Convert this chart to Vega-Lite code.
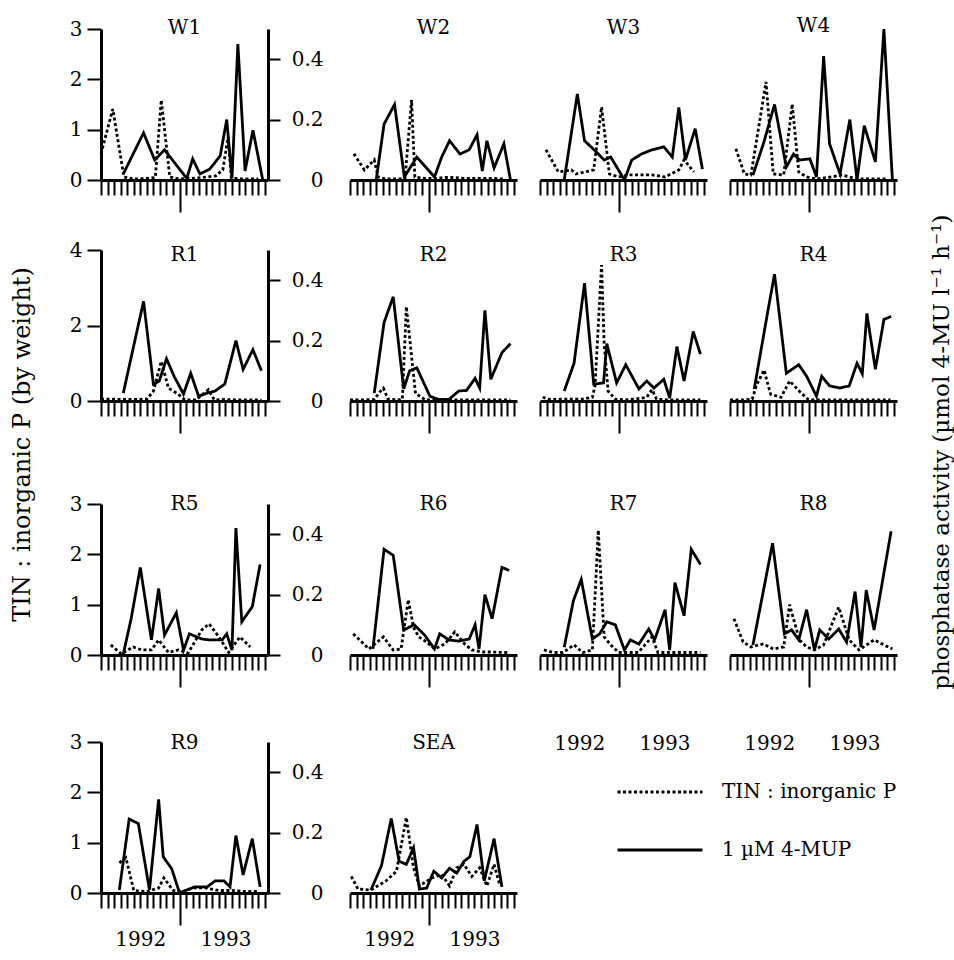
{
"$schema": "https://vega.github.io/schema/vega-lite/v6.json",
"background": "white",
"padding": {"left": 9, "top": 16, "right": 0, "bottom": 0},
"title": {"text": "phosphatase activity (µmol 4-MU l⁻¹ h⁻¹)", "orient": "right", "angle": 270, "anchor": "middle", "frame": "bounds", "fontSize": 23, "offset": 10, "dx": 39},
"columns": 4,
"spacing": {"row": 70, "column": 23},
"bounds": "flush",
"align": "each",
"datasets": {
"W1_tin": [{"month":0,"value":0.52},{"month":1.8,"value":1.41},{"month":3.5,"value":0.06},{"month":5,"value":0.02},{"month":7,"value":0.03},{"month":8.3,"value":0.05},{"month":9.2,"value":1.59},{"month":10.5,"value":0.06},{"month":12,"value":0.02},{"month":13.5,"value":0.03},{"month":15.5,"value":0.05},{"month":17.5,"value":0.08},{"month":18.6,"value":0.2},{"month":19.4,"value":0.85},{"month":19.9,"value":0.05},{"month":21,"value":0.02},{"month":22.5,"value":0.02},{"month":24,"value":0.02}],
"W1_mup": [{"month":3.4,"value":0.02},{"month":6.5,"value":0.156},{"month":8.2,"value":0.066},{"month":9.7,"value":0.1},{"month":13.1,"value":0.005},{"month":14,"value":0.07},{"month":15.1,"value":0.02},{"month":16.6,"value":0.036},{"month":18.2,"value":0.08},{"month":19.2,"value":0.2},{"month":20,"value":0.005},{"month":20.9,"value":0.45},{"month":22,"value":0.03},{"month":23.2,"value":0.165},{"month":24.7,"value":0}],
"W2_tin": [{"month":0.6,"value":0.52},{"month":2.2,"value":0.2},{"month":3.7,"value":0.4},{"month":4.3,"value":0.06},{"month":5.5,"value":0.02},{"month":7,"value":0.02},{"month":8.4,"value":0.03},{"month":9.4,"value":1.59},{"month":9.9,"value":0.06},{"month":11.5,"value":0.03},{"month":13,"value":0.03},{"month":14.5,"value":0.05},{"month":16,"value":0.05},{"month":17.5,"value":0.03},{"month":19,"value":0.03},{"month":20.5,"value":0.03},{"month":22,"value":0.03},{"month":23.5,"value":0.02}],
"W2_mup": [{"month":4,"value":0},{"month":5.2,"value":0.185},{"month":6.8,"value":0.25},{"month":8.3,"value":0.01},{"month":10.2,"value":0.076},{"month":12.9,"value":0.01},{"month":14,"value":0.076},{"month":15.2,"value":0.13},{"month":16.8,"value":0.086},{"month":18.2,"value":0.1},{"month":19.4,"value":0.15},{"month":20.2,"value":0.03},{"month":20.9,"value":0.13},{"month":22,"value":0.04},{"month":23.5,"value":0.12},{"month":24.5,"value":0}],
"W3_tin": [{"month":0.9,"value":0.6},{"month":2.8,"value":0.16},{"month":4.8,"value":0.2},{"month":5.5,"value":0.12},{"month":8.2,"value":0.2},{"month":9.4,"value":1.45},{"month":10.6,"value":0.12},{"month":12,"value":0.06},{"month":13.5,"value":0.1},{"month":15.1,"value":0.1},{"month":17.1,"value":0.1},{"month":19.1,"value":0.06},{"month":21.2,"value":0.2},{"month":22,"value":0.4},{"month":23.5,"value":0.16}],
"W3_mup": [{"month":3.7,"value":0},{"month":5.7,"value":0.285},{"month":6.8,"value":0.13},{"month":8.6,"value":0.093},{"month":9.8,"value":0.066},{"month":10.8,"value":0.076},{"month":12.9,"value":0},{"month":14,"value":0.066},{"month":15.5,"value":0.086},{"month":17.1,"value":0.1},{"month":18.9,"value":0.11},{"month":20.2,"value":0.076},{"month":21.2,"value":0.24},{"month":22.2,"value":0.066},{"month":23.7,"value":0.17},{"month":24.8,"value":0.036}],
"W4_tin": [{"month":0.9,"value":0.62},{"month":2.2,"value":0.12},{"month":3.2,"value":0.1},{"month":5.5,"value":1.95},{"month":6.6,"value":0.12},{"month":8.2,"value":0.1},{"month":9.5,"value":1.51},{"month":10.5,"value":0.16},{"month":11.7,"value":0.06},{"month":13.2,"value":0.02},{"month":15.5,"value":0.06},{"month":17.1,"value":0.1},{"month":19.4,"value":0.02},{"month":21.7,"value":0.02},{"month":24,"value":0.02}],
"W4_mup": [{"month":3.5,"value":0.016},{"month":5.1,"value":0.12},{"month":6.8,"value":0.25},{"month":8.6,"value":0.043},{"month":9.7,"value":0.086},{"month":10.6,"value":0.066},{"month":12.2,"value":0.07},{"month":13.2,"value":0.01},{"month":14.3,"value":0.41},{"month":15.2,"value":0.12},{"month":16.8,"value":0.02},{"month":18.3,"value":0.2},{"month":19.4,"value":0},{"month":20.5,"value":0.18},{"month":22.2,"value":0.06},{"month":23.5,"value":0.5},{"month":24.8,"value":0}],
"R1_tin": [{"month":0,"value":0.05},{"month":1.5,"value":0.05},{"month":3,"value":0.04},{"month":5,"value":0.04},{"month":7,"value":0.05},{"month":8,"value":0.26},{"month":9.2,"value":1.05},{"month":10.3,"value":0.34},{"month":11.8,"value":0.18},{"month":12.8,"value":0.03},{"month":14.5,"value":0.03},{"month":16.4,"value":0.3},{"month":17.3,"value":0.03},{"month":19,"value":0.04},{"month":21,"value":0.03},{"month":23,"value":0.03},{"month":24.5,"value":0.03}],
"R1_mup": [{"month":3.4,"value":0.026},{"month":6.5,"value":0.33},{"month":8,"value":0.056},{"month":8.9,"value":0.066},{"month":10,"value":0.14},{"month":11.2,"value":0.08},{"month":12.6,"value":0.023},{"month":13.7,"value":0.092},{"month":14.9,"value":0.016},{"month":16.2,"value":0.026},{"month":17.4,"value":0.033},{"month":18.9,"value":0.056},{"month":20.6,"value":0.2},{"month":21.7,"value":0.105},{"month":23.2,"value":0.17},{"month":24.5,"value":0.1}],
"R2_tin": [{"month":0,"value":0.03},{"month":2,"value":0.03},{"month":3.7,"value":0.04},{"month":4.6,"value":0.25},{"month":5.1,"value":0.34},{"month":5.8,"value":0.05},{"month":7.3,"value":0.03},{"month":8,"value":0.05},{"month":8.6,"value":2.5},{"month":10,"value":0.2},{"month":11.5,"value":0.03},{"month":13,"value":0.03},{"month":15,"value":0.03},{"month":17,"value":0.03},{"month":19,"value":0.03},{"month":21,"value":0.03},{"month":23,"value":0.03},{"month":24.5,"value":0.03}],
"R2_mup": [{"month":3.7,"value":0.026},{"month":5.2,"value":0.26},{"month":6.6,"value":0.345},{"month":8.2,"value":0.04},{"month":9.1,"value":0.1},{"month":10.2,"value":0.11},{"month":12.2,"value":0.016},{"month":13.5,"value":0.005},{"month":15.1,"value":0.005},{"month":16.6,"value":0.033},{"month":17.8,"value":0.035},{"month":19.1,"value":0.075},{"month":19.8,"value":0.043},{"month":20.6,"value":0.3},{"month":21.5,"value":0.072},{"month":23.2,"value":0.16},{"month":24.5,"value":0.19}],
"R3_tin": [{"month":0.4,"value":0.1},{"month":1.5,"value":0.04},{"month":3,"value":0.05},{"month":5,"value":0.05},{"month":6.5,"value":0.05},{"month":8,"value":0.1},{"month":8.4,"value":0.4},{"month":9.4,"value":3.6},{"month":9.8,"value":1.5},{"month":10.4,"value":0.26},{"month":11.5,"value":0.05},{"month":13,"value":0.03},{"month":14.5,"value":0.05},{"month":16.3,"value":0.1},{"month":17.1,"value":0.3},{"month":17.8,"value":0.05},{"month":19.5,"value":0.03},{"month":21,"value":0.03},{"month":23,"value":0.03},{"month":24.5,"value":0.03}],
"R3_mup": [{"month":3.7,"value":0.033},{"month":5.2,"value":0.125},{"month":6.8,"value":0.39},{"month":8.2,"value":0.056},{"month":9.7,"value":0.06},{"month":10.2,"value":0.19},{"month":11.7,"value":0.06},{"month":13.1,"value":0.12},{"month":15.1,"value":0.04},{"month":16.3,"value":0.066},{"month":17.4,"value":0.043},{"month":18.9,"value":0.072},{"month":19.8,"value":0.01},{"month":20.9,"value":0.18},{"month":22,"value":0.066},{"month":23.4,"value":0.23},{"month":24.5,"value":0.155}],
"R4_tin": [{"month":0,"value":0.03},{"month":2,"value":0.03},{"month":3.4,"value":0.05},{"month":4,"value":0.4},{"month":5.2,"value":0.82},{"month":6.2,"value":0.18},{"month":7.8,"value":0.1},{"month":9.1,"value":0.53},{"month":10.6,"value":0.26},{"month":12,"value":0.03},{"month":13.5,"value":0.03},{"month":15,"value":0.03},{"month":17,"value":0.03},{"month":19,"value":0.03},{"month":21,"value":0.03},{"month":23,"value":0.03},{"month":24.5,"value":0.03}],
"R4_mup": [{"month":3.7,"value":0.04},{"month":5.8,"value":0.3},{"month":6.8,"value":0.42},{"month":8.6,"value":0.092},{"month":10.5,"value":0.12},{"month":11.7,"value":0.082},{"month":13.2,"value":0.016},{"month":14,"value":0.082},{"month":15.2,"value":0.05},{"month":16.8,"value":0.043},{"month":18.2,"value":0.05},{"month":19.4,"value":0.125},{"month":20.2,"value":0.09},{"month":20.9,"value":0.29},{"month":22.2,"value":0.105},{"month":23.5,"value":0.27},{"month":24.6,"value":0.28}],
"R5_tin": [{"month":1.5,"value":0.2},{"month":3.1,"value":0.02},{"month":4.9,"value":0.16},{"month":6.2,"value":0.1},{"month":7.7,"value":0.1},{"month":8.8,"value":0.3},{"month":10.3,"value":0.05},{"month":11.8,"value":0.1},{"month":13.3,"value":0.04},{"month":15.4,"value":0.5},{"month":16.5,"value":0.62},{"month":18,"value":0.36},{"month":19.5,"value":0.05},{"month":21.2,"value":0.36},{"month":22.8,"value":0.16}],
"R5_mup": [{"month":3.4,"value":0.003},{"month":4.6,"value":0.12},{"month":6,"value":0.29},{"month":7.7,"value":0.05},{"month":8.8,"value":0.22},{"month":9.7,"value":0.066},{"month":11.5,"value":0.14},{"month":12.6,"value":0.016},{"month":13.5,"value":0.07},{"month":15.4,"value":0.053},{"month":16.5,"value":0.05},{"month":18.5,"value":0.05},{"month":19.2,"value":0.07},{"month":20,"value":0.016},{"month":20.6,"value":0.42},{"month":21.5,"value":0.11},{"month":23.1,"value":0.16},{"month":24.3,"value":0.3}],
"R6_tin": [{"month":0.5,"value":0.42},{"month":2.9,"value":0.12},{"month":5.1,"value":0.36},{"month":6.6,"value":0.1},{"month":7.8,"value":0.12},{"month":8.9,"value":1.1},{"month":9.7,"value":0.55},{"month":10.5,"value":0.36},{"month":11.7,"value":0.26},{"month":12.9,"value":0.12},{"month":14.5,"value":0.22},{"month":16,"value":0.46},{"month":17.5,"value":0.22},{"month":18.6,"value":0.1},{"month":20.2,"value":0.06},{"month":21.7,"value":0.06},{"month":23.2,"value":0.05},{"month":24.3,"value":0.05}],
"R6_mup": [{"month":3.5,"value":0.02},{"month":5.2,"value":0.35},{"month":6.6,"value":0.33},{"month":8.2,"value":0.083},{"month":9.8,"value":0.1},{"month":11.4,"value":0.066},{"month":12.9,"value":0.02},{"month":13.7,"value":0.07},{"month":15.1,"value":0.05},{"month":16.6,"value":0.046},{"month":18.2,"value":0.053},{"month":19.1,"value":0.1},{"month":19.7,"value":0.02},{"month":20.6,"value":0.2},{"month":21.7,"value":0.12},{"month":23.2,"value":0.29},{"month":24.3,"value":0.28}],
"R7_tin": [{"month":0.6,"value":0.1},{"month":2,"value":0.05},{"month":3.5,"value":0.05},{"month":5.2,"value":0.2},{"month":6.5,"value":0.05},{"month":8,"value":0.1},{"month":8.9,"value":2.48},{"month":9.8,"value":0.36},{"month":10.8,"value":0.2},{"month":12,"value":0.05},{"month":13.5,"value":0.05},{"month":15,"value":0.05},{"month":17.1,"value":0.36},{"month":18,"value":0.05},{"month":19.5,"value":0.05},{"month":21,"value":0.05},{"month":23,"value":0.05},{"month":24.5,"value":0.05}],
"R7_mup": [{"month":3.7,"value":0.026},{"month":5.1,"value":0.18},{"month":6.3,"value":0.25},{"month":8,"value":0.053},{"month":9.1,"value":0.07},{"month":10.2,"value":0.11},{"month":11.5,"value":0.1},{"month":12.9,"value":0.016},{"month":13.8,"value":0.05},{"month":15.1,"value":0.036},{"month":16.6,"value":0.086},{"month":17.5,"value":0.05},{"month":19.1,"value":0.15},{"month":19.8,"value":0.016},{"month":20.6,"value":0.24},{"month":22,"value":0.13},{"month":23.1,"value":0.35},{"month":24.5,"value":0.3}],
"R8_tin": [{"month":0.6,"value":0.72},{"month":2,"value":0.26},{"month":3.2,"value":0.16},{"month":5.1,"value":0.22},{"month":6.6,"value":0.12},{"month":8.2,"value":0.16},{"month":9.1,"value":1.0},{"month":10.6,"value":0.3},{"month":11.7,"value":0.16},{"month":12.9,"value":0.1},{"month":14.3,"value":0.2},{"month":16.6,"value":0.95},{"month":18.2,"value":0.3},{"month":19.7,"value":0.1},{"month":22,"value":0.3},{"month":23.5,"value":0.2},{"month":24.8,"value":0.12}],
"R8_mup": [{"month":3.5,"value":0.033},{"month":6.5,"value":0.37},{"month":8.3,"value":0.07},{"month":9.4,"value":0.083},{"month":10.5,"value":0.05},{"month":11.7,"value":0.15},{"month":12.9,"value":0.016},{"month":13.7,"value":0.083},{"month":15.1,"value":0.053},{"month":16.6,"value":0.086},{"month":17.8,"value":0.043},{"month":19.1,"value":0.21},{"month":20,"value":0.026},{"month":20.8,"value":0.215},{"month":22,"value":0.083},{"month":24.6,"value":0.41}],
"R9_tin": [{"month":2.8,"value":0.6},{"month":3.8,"value":0.7},{"month":5,"value":0.05},{"month":7,"value":0.03},{"month":8.8,"value":0.1},{"month":9.6,"value":0.3},{"month":11,"value":0.05},{"month":12.5,"value":0.03},{"month":14,"value":0.1},{"month":16,"value":0.1},{"month":18,"value":0.05},{"month":20,"value":0.05},{"month":22,"value":0.03},{"month":24,"value":0.03}],
"R9_mup": [{"month":2.8,"value":0.01},{"month":4.3,"value":0.245},{"month":5.7,"value":0.23},{"month":7.4,"value":0.01},{"month":8.8,"value":0.31},{"month":9.5,"value":0.12},{"month":10.8,"value":0.08},{"month":12,"value":0},{"month":13.1,"value":0.01},{"month":14.3,"value":0.02},{"month":16.2,"value":0.02},{"month":17.4,"value":0.04},{"month":18.8,"value":0.04},{"month":19.7,"value":0.02},{"month":20.6,"value":0.19},{"month":21.7,"value":0.06},{"month":23.1,"value":0.18},{"month":24.3,"value":0.02}],
"SEA_tin": [{"month":0.2,"value":0.33},{"month":1.2,"value":0.08},{"month":3.2,"value":0.06},{"month":5.5,"value":0.24},{"month":7.1,"value":0.43},{"month":8.6,"value":1.5},{"month":9.7,"value":0.5},{"month":10.6,"value":0.14},{"month":12.5,"value":0.3},{"month":14,"value":0.37},{"month":15.2,"value":0.14},{"month":16.3,"value":0.5},{"month":17.4,"value":0.57},{"month":18.6,"value":0.33},{"month":19.8,"value":0.5},{"month":20.9,"value":0.14},{"month":22,"value":0.57},{"month":22.9,"value":0.14}],
"SEA_mup": [{"month":3.2,"value":0.01},{"month":4.8,"value":0.09},{"month":6.3,"value":0.247},{"month":7.5,"value":0.105},{"month":8.6,"value":0.095},{"month":9.7,"value":0.15},{"month":10.6,"value":0.013},{"month":11.7,"value":0.016},{"month":12.8,"value":0.072},{"month":14,"value":0.05},{"month":15.2,"value":0.082},{"month":16.3,"value":0.066},{"month":17.4,"value":0.105},{"month":18.3,"value":0.12},{"month":19.4,"value":0.227},{"month":20.5,"value":0.04},{"month":22,"value":0.18},{"month":23.2,"value":0.02}]
},
"concat": [
{"width": 167, "height": 151, "title": {"text": "W1", "offset": -19},
 "layer": [
  {"data": {"name": "W1_tin"}, "mark": {"type": "line", "strokeWidth": 2.8, "color": "black"},
   "encoding": {
    "x": {"field": "month", "type": "quantitative", "scale": {"domain": [0, 25.5], "nice": false, "zero": false}, "axis": {"values": [0,1,2,3,4,5,6,7,8,9,10,11,12,13,14,15,16,17,18,19,20,21,22,23,24,25], "tickCount": 40, "labels": false, "title": null, "tickSize": {"condition": {"test": "datum.value == 12", "value": 32}, "value": 15}}},
    "y": {"field": "value", "type": "quantitative", "scale": {"domain": [0, 3], "nice": false}, "axis": {"orient": "left", "values": [0,1,2,3], "tickSize": 14, "labelPadding": 5, "title": null}},
    "strokeDash": {"datum": "TIN : inorganic P", "scale": {"domain": ["TIN : inorganic P", "1 µM 4-MUP"], "range": [[3, 2.5], [1, 0]]},
      "legend": {"orient": "none", "legendX": 515, "legendY": 750, "title": null, "symbolType": "stroke", "symbolSize": 7225, "symbolStrokeWidth": 2.8, "symbolStrokeColor": "black", "labelFont": "DejaVu Serif", "labelFontSize": 20, "labelColor": "black", "labelOffset": 18, "labelLimit": 400, "clipHeight": 26, "rowPadding": 32}}
   }},
  {"data": {"name": "W1_mup"}, "mark": {"type": "line", "strokeWidth": 2.8, "color": "black"},
   "encoding": {
    "x": {"field": "month", "type": "quantitative"},
    "y": {"field": "value", "type": "quantitative", "scale": {"domain": [0, 0.5], "nice": false}, "axis": {"orient": "right", "values": [0, 0.2, 0.4], "format": "~g", "tickSize": 12, "labelAlign": "right", "labelPadding": 43, "title": null}},
    "strokeDash": {"datum": "1 µM 4-MUP", "scale": {"domain": ["TIN : inorganic P", "1 µM 4-MUP"], "range": [[3, 2.5], [1, 0]]}}
   }}
 ],
 "resolve": {"scale": {"y": "independent"}}},
{"width": 226, "height": 151, "title": {"text": "W2", "offset": -9, "dx": 29.5},
 "layer": [
  {"data": {"name": "W2_tin"}, "mark": {"type": "line", "strokeWidth": 2.8, "color": "black"},
   "encoding": {
    "x": {"field": "month", "type": "quantitative", "scale": {"domain": [0, 25.5], "nice": false, "zero": false, "range": [59, 226]}, "axis": {"values": [0,1,2,3,4,5,6,7,8,9,10,11,12,13,14,15,16,17,18,19,20,21,22,23,24,25], "tickCount": 40, "labels": false, "title": null, "tickSize": {"condition": {"test": "datum.value == 12", "value": 32}, "value": 15}}},
    "y": {"field": "value", "type": "quantitative", "scale": {"domain": [0, 3], "nice": false}, "axis": null},
    "strokeDash": {"datum": "TIN : inorganic P", "scale": {"domain": ["TIN : inorganic P", "1 µM 4-MUP"], "range": [[3, 2.5], [1, 0]]}}
   }},
  {"data": {"name": "W2_mup"}, "mark": {"type": "line", "strokeWidth": 2.8, "color": "black"},
   "encoding": {
    "x": {"field": "month", "type": "quantitative"},
    "y": {"field": "value", "type": "quantitative", "scale": {"domain": [0, 0.5], "nice": false}, "axis": null},
    "strokeDash": {"datum": "1 µM 4-MUP", "scale": {"domain": ["TIN : inorganic P", "1 µM 4-MUP"], "range": [[3, 2.5], [1, 0]]}}
   }}
 ],
 "resolve": {"scale": {"y": "independent"}}},
{"width": 167, "height": 151, "title": {"text": "W3", "offset": -9},
 "layer": [
  {"data": {"name": "W3_tin"}, "mark": {"type": "line", "strokeWidth": 2.8, "color": "black"},
   "encoding": {
    "x": {"field": "month", "type": "quantitative", "scale": {"domain": [0, 25.5], "nice": false, "zero": false}, "axis": {"values": [0,1,2,3,4,5,6,7,8,9,10,11,12,13,14,15,16,17,18,19,20,21,22,23,24,25], "tickCount": 40, "labels": false, "title": null, "tickSize": {"condition": {"test": "datum.value == 12", "value": 32}, "value": 15}}},
    "y": {"field": "value", "type": "quantitative", "scale": {"domain": [0, 3], "nice": false}, "axis": null},
    "strokeDash": {"datum": "TIN : inorganic P", "scale": {"domain": ["TIN : inorganic P", "1 µM 4-MUP"], "range": [[3, 2.5], [1, 0]]}}
   }},
  {"data": {"name": "W3_mup"}, "mark": {"type": "line", "strokeWidth": 2.8, "color": "black"},
   "encoding": {
    "x": {"field": "month", "type": "quantitative"},
    "y": {"field": "value", "type": "quantitative", "scale": {"domain": [0, 0.5], "nice": false}, "axis": null},
    "strokeDash": {"datum": "1 µM 4-MUP", "scale": {"domain": ["TIN : inorganic P", "1 µM 4-MUP"], "range": [[3, 2.5], [1, 0]]}}
   }}
 ],
 "resolve": {"scale": {"y": "independent"}}},
{"width": 167, "height": 151, "title": {"text": "W4", "offset": -13},
 "layer": [
  {"data": {"name": "W4_tin"}, "mark": {"type": "line", "strokeWidth": 2.8, "color": "black"},
   "encoding": {
    "x": {"field": "month", "type": "quantitative", "scale": {"domain": [0, 25.5], "nice": false, "zero": false}, "axis": {"values": [0,1,2,3,4,5,6,7,8,9,10,11,12,13,14,15,16,17,18,19,20,21,22,23,24,25], "tickCount": 40, "labels": false, "title": null, "tickSize": {"condition": {"test": "datum.value == 12", "value": 32}, "value": 15}}},
    "y": {"field": "value", "type": "quantitative", "scale": {"domain": [0, 3], "nice": false}, "axis": null},
    "strokeDash": {"datum": "TIN : inorganic P", "scale": {"domain": ["TIN : inorganic P", "1 µM 4-MUP"], "range": [[3, 2.5], [1, 0]]}}
   }},
  {"data": {"name": "W4_mup"}, "mark": {"type": "line", "strokeWidth": 2.8, "color": "black"},
   "encoding": {
    "x": {"field": "month", "type": "quantitative"},
    "y": {"field": "value", "type": "quantitative", "scale": {"domain": [0, 0.5], "nice": false}, "axis": null},
    "strokeDash": {"datum": "1 µM 4-MUP", "scale": {"domain": ["TIN : inorganic P", "1 µM 4-MUP"], "range": [[3, 2.5], [1, 0]]}}
   }}
 ],
 "resolve": {"scale": {"y": "independent"}}},
{"width": 167, "height": 151, "title": {"text": "R1", "offset": -25},
 "layer": [
  {"data": {"name": "R1_tin"}, "mark": {"type": "line", "strokeWidth": 2.8, "color": "black"},
   "encoding": {
    "x": {"field": "month", "type": "quantitative", "scale": {"domain": [0, 25.5], "nice": false, "zero": false}, "axis": {"values": [0,1,2,3,4,5,6,7,8,9,10,11,12,13,14,15,16,17,18,19,20,21,22,23,24,25], "tickCount": 40, "labels": false, "title": null, "tickSize": {"condition": {"test": "datum.value == 12", "value": 32}, "value": 15}}},
    "y": {"field": "value", "type": "quantitative", "scale": {"domain": [0, 4], "nice": false}, "axis": {"orient": "left", "values": [0,2,4], "tickSize": 14, "labelPadding": 5, "title": "TIN : inorganic P (by weight)", "titleX": -79, "titleY": 194, "titleAngle": 270, "titleAlign": "center", "titleBaseline": "middle", "titleFontSize": 24}},
    "strokeDash": {"datum": "TIN : inorganic P", "scale": {"domain": ["TIN : inorganic P", "1 µM 4-MUP"], "range": [[3, 2.5], [1, 0]]}}
   }},
  {"data": {"name": "R1_mup"}, "mark": {"type": "line", "strokeWidth": 2.8, "color": "black"},
   "encoding": {
    "x": {"field": "month", "type": "quantitative"},
    "y": {"field": "value", "type": "quantitative", "scale": {"domain": [0, 0.5], "nice": false}, "axis": {"orient": "right", "values": [0, 0.2, 0.4], "format": "~g", "tickSize": 12, "labelAlign": "right", "labelPadding": 43, "title": null}},
    "strokeDash": {"datum": "1 µM 4-MUP", "scale": {"domain": ["TIN : inorganic P", "1 µM 4-MUP"], "range": [[3, 2.5], [1, 0]]}}
   }}
 ],
 "resolve": {"scale": {"y": "independent"}}},
{"width": 226, "height": 151, "title": {"text": "R2", "offset": -15, "dx": 29.5},
 "layer": [
  {"data": {"name": "R2_tin"}, "mark": {"type": "line", "strokeWidth": 2.8, "color": "black"},
   "encoding": {
    "x": {"field": "month", "type": "quantitative", "scale": {"domain": [0, 25.5], "nice": false, "zero": false, "range": [59, 226]}, "axis": {"values": [0,1,2,3,4,5,6,7,8,9,10,11,12,13,14,15,16,17,18,19,20,21,22,23,24,25], "tickCount": 40, "labels": false, "title": null, "tickSize": {"condition": {"test": "datum.value == 12", "value": 32}, "value": 15}}},
    "y": {"field": "value", "type": "quantitative", "scale": {"domain": [0, 4], "nice": false}, "axis": null},
    "strokeDash": {"datum": "TIN : inorganic P", "scale": {"domain": ["TIN : inorganic P", "1 µM 4-MUP"], "range": [[3, 2.5], [1, 0]]}}
   }},
  {"data": {"name": "R2_mup"}, "mark": {"type": "line", "strokeWidth": 2.8, "color": "black"},
   "encoding": {
    "x": {"field": "month", "type": "quantitative"},
    "y": {"field": "value", "type": "quantitative", "scale": {"domain": [0, 0.5], "nice": false}, "axis": null},
    "strokeDash": {"datum": "1 µM 4-MUP", "scale": {"domain": ["TIN : inorganic P", "1 µM 4-MUP"], "range": [[3, 2.5], [1, 0]]}}
   }}
 ],
 "resolve": {"scale": {"y": "independent"}}},
{"width": 167, "height": 151, "title": {"text": "R3", "offset": -15},
 "layer": [
  {"data": {"name": "R3_tin"}, "mark": {"type": "line", "strokeWidth": 2.8, "color": "black"},
   "encoding": {
    "x": {"field": "month", "type": "quantitative", "scale": {"domain": [0, 25.5], "nice": false, "zero": false}, "axis": {"values": [0,1,2,3,4,5,6,7,8,9,10,11,12,13,14,15,16,17,18,19,20,21,22,23,24,25], "tickCount": 40, "labels": false, "title": null, "tickSize": {"condition": {"test": "datum.value == 12", "value": 32}, "value": 15}}},
    "y": {"field": "value", "type": "quantitative", "scale": {"domain": [0, 4], "nice": false}, "axis": null},
    "strokeDash": {"datum": "TIN : inorganic P", "scale": {"domain": ["TIN : inorganic P", "1 µM 4-MUP"], "range": [[3, 2.5], [1, 0]]}}
   }},
  {"data": {"name": "R3_mup"}, "mark": {"type": "line", "strokeWidth": 2.8, "color": "black"},
   "encoding": {
    "x": {"field": "month", "type": "quantitative"},
    "y": {"field": "value", "type": "quantitative", "scale": {"domain": [0, 0.5], "nice": false}, "axis": null},
    "strokeDash": {"datum": "1 µM 4-MUP", "scale": {"domain": ["TIN : inorganic P", "1 µM 4-MUP"], "range": [[3, 2.5], [1, 0]]}}
   }}
 ],
 "resolve": {"scale": {"y": "independent"}}},
{"width": 167, "height": 151, "title": {"text": "R4", "offset": -15},
 "layer": [
  {"data": {"name": "R4_tin"}, "mark": {"type": "line", "strokeWidth": 2.8, "color": "black"},
   "encoding": {
    "x": {"field": "month", "type": "quantitative", "scale": {"domain": [0, 25.5], "nice": false, "zero": false}, "axis": {"values": [0,1,2,3,4,5,6,7,8,9,10,11,12,13,14,15,16,17,18,19,20,21,22,23,24,25], "tickCount": 40, "labels": false, "title": null, "tickSize": {"condition": {"test": "datum.value == 12", "value": 32}, "value": 15}}},
    "y": {"field": "value", "type": "quantitative", "scale": {"domain": [0, 4], "nice": false}, "axis": null},
    "strokeDash": {"datum": "TIN : inorganic P", "scale": {"domain": ["TIN : inorganic P", "1 µM 4-MUP"], "range": [[3, 2.5], [1, 0]]}}
   }},
  {"data": {"name": "R4_mup"}, "mark": {"type": "line", "strokeWidth": 2.8, "color": "black"},
   "encoding": {
    "x": {"field": "month", "type": "quantitative"},
    "y": {"field": "value", "type": "quantitative", "scale": {"domain": [0, 0.5], "nice": false}, "axis": null},
    "strokeDash": {"datum": "1 µM 4-MUP", "scale": {"domain": ["TIN : inorganic P", "1 µM 4-MUP"], "range": [[3, 2.5], [1, 0]]}}
   }}
 ],
 "resolve": {"scale": {"y": "independent"}}},
{"width": 167, "height": 184, "title": {"text": "R5", "offset": -43},
 "layer": [
  {"data": {"name": "R5_tin"}, "mark": {"type": "line", "strokeWidth": 2.8, "color": "black"},
   "encoding": {
    "x": {"field": "month", "type": "quantitative", "scale": {"domain": [0, 25.5], "nice": false, "zero": false}, "axis": {"values": [0,1,2,3,4,5,6,7,8,9,10,11,12,13,14,15,16,17,18,19,20,21,22,23,24,25], "tickCount": 40, "labels": false, "title": null, "tickSize": {"condition": {"test": "datum.value == 12", "value": 32}, "value": 15}}},
    "y": {"field": "value", "type": "quantitative", "scale": {"domain": [0, 3], "nice": false, "range": [184, 33]}, "axis": {"orient": "left", "values": [0,1,2,3], "tickSize": 14, "labelPadding": 5, "title": null}},
    "strokeDash": {"datum": "TIN : inorganic P", "scale": {"domain": ["TIN : inorganic P", "1 µM 4-MUP"], "range": [[3, 2.5], [1, 0]]}}
   }},
  {"data": {"name": "R5_mup"}, "mark": {"type": "line", "strokeWidth": 2.8, "color": "black"},
   "encoding": {
    "x": {"field": "month", "type": "quantitative"},
    "y": {"field": "value", "type": "quantitative", "scale": {"domain": [0, 0.5], "nice": false, "range": [184, 33]}, "axis": {"orient": "right", "values": [0, 0.2, 0.4], "format": "~g", "tickSize": 12, "labelAlign": "right", "labelPadding": 43, "title": null}},
    "strokeDash": {"datum": "1 µM 4-MUP", "scale": {"domain": ["TIN : inorganic P", "1 µM 4-MUP"], "range": [[3, 2.5], [1, 0]]}}
   }}
 ],
 "resolve": {"scale": {"y": "independent"}}},
{"width": 226, "height": 184, "title": {"text": "R6", "offset": -43, "dx": 29.5},
 "layer": [
  {"data": {"name": "R6_tin"}, "mark": {"type": "line", "strokeWidth": 2.8, "color": "black"},
   "encoding": {
    "x": {"field": "month", "type": "quantitative", "scale": {"domain": [0, 25.5], "nice": false, "zero": false, "range": [59, 226]}, "axis": {"values": [0,1,2,3,4,5,6,7,8,9,10,11,12,13,14,15,16,17,18,19,20,21,22,23,24,25], "tickCount": 40, "labels": false, "title": null, "tickSize": {"condition": {"test": "datum.value == 12", "value": 32}, "value": 15}}},
    "y": {"field": "value", "type": "quantitative", "scale": {"domain": [0, 3], "nice": false, "range": [184, 33]}, "axis": null},
    "strokeDash": {"datum": "TIN : inorganic P", "scale": {"domain": ["TIN : inorganic P", "1 µM 4-MUP"], "range": [[3, 2.5], [1, 0]]}}
   }},
  {"data": {"name": "R6_mup"}, "mark": {"type": "line", "strokeWidth": 2.8, "color": "black"},
   "encoding": {
    "x": {"field": "month", "type": "quantitative"},
    "y": {"field": "value", "type": "quantitative", "scale": {"domain": [0, 0.5], "nice": false, "range": [184, 33]}, "axis": null},
    "strokeDash": {"datum": "1 µM 4-MUP", "scale": {"domain": ["TIN : inorganic P", "1 µM 4-MUP"], "range": [[3, 2.5], [1, 0]]}}
   }}
 ],
 "resolve": {"scale": {"y": "independent"}}},
{"width": 167, "height": 184, "title": {"text": "R7", "offset": -43},
 "layer": [
  {"data": {"name": "R7_tin"}, "mark": {"type": "line", "strokeWidth": 2.8, "color": "black"},
   "encoding": {
    "x": {"field": "month", "type": "quantitative", "scale": {"domain": [0, 25.5], "nice": false, "zero": false}, "axis": {"values": [0,1,2,3,4,5,6,7,8,9,10,11,12,13,14,15,16,17,18,19,20,21,22,23,24,25], "tickCount": 40, "labels": true, "labelFont": "DejaVu Serif", "labelFontSize": 20, "labelExpr": "datum.value == 6 ? '1992' : datum.value == 19 ? '1993' : ''", "labelOverlap": false, "labelFlush": false, "labelPadding": 63, "title": null, "tickSize": {"condition": {"test": "datum.value == 12", "value": 32}, "value": 15}}},
    "y": {"field": "value", "type": "quantitative", "scale": {"domain": [0, 3], "nice": false, "range": [184, 33]}, "axis": null},
    "strokeDash": {"datum": "TIN : inorganic P", "scale": {"domain": ["TIN : inorganic P", "1 µM 4-MUP"], "range": [[3, 2.5], [1, 0]]}}
   }},
  {"data": {"name": "R7_mup"}, "mark": {"type": "line", "strokeWidth": 2.8, "color": "black"},
   "encoding": {
    "x": {"field": "month", "type": "quantitative"},
    "y": {"field": "value", "type": "quantitative", "scale": {"domain": [0, 0.5], "nice": false, "range": [184, 33]}, "axis": null},
    "strokeDash": {"datum": "1 µM 4-MUP", "scale": {"domain": ["TIN : inorganic P", "1 µM 4-MUP"], "range": [[3, 2.5], [1, 0]]}}
   }}
 ],
 "resolve": {"scale": {"y": "independent"}}},
{"width": 167, "height": 184, "title": {"text": "R8", "offset": -43},
 "layer": [
  {"data": {"name": "R8_tin"}, "mark": {"type": "line", "strokeWidth": 2.8, "color": "black"},
   "encoding": {
    "x": {"field": "month", "type": "quantitative", "scale": {"domain": [0, 25.5], "nice": false, "zero": false}, "axis": {"values": [0,1,2,3,4,5,6,7,8,9,10,11,12,13,14,15,16,17,18,19,20,21,22,23,24,25], "tickCount": 40, "labels": true, "labelFont": "DejaVu Serif", "labelFontSize": 20, "labelExpr": "datum.value == 6 ? '1992' : datum.value == 19 ? '1993' : ''", "labelOverlap": false, "labelFlush": false, "labelPadding": 63, "title": null, "tickSize": {"condition": {"test": "datum.value == 12", "value": 32}, "value": 15}}},
    "y": {"field": "value", "type": "quantitative", "scale": {"domain": [0, 3], "nice": false, "range": [184, 33]}, "axis": null},
    "strokeDash": {"datum": "TIN : inorganic P", "scale": {"domain": ["TIN : inorganic P", "1 µM 4-MUP"], "range": [[3, 2.5], [1, 0]]}}
   }},
  {"data": {"name": "R8_mup"}, "mark": {"type": "line", "strokeWidth": 2.8, "color": "black"},
   "encoding": {
    "x": {"field": "month", "type": "quantitative"},
    "y": {"field": "value", "type": "quantitative", "scale": {"domain": [0, 0.5], "nice": false, "range": [184, 33]}, "axis": null},
    "strokeDash": {"datum": "1 µM 4-MUP", "scale": {"domain": ["TIN : inorganic P", "1 µM 4-MUP"], "range": [[3, 2.5], [1, 0]]}}
   }}
 ],
 "resolve": {"scale": {"y": "independent"}}},
{"width": 167, "height": 168, "title": {"text": "R9", "offset": -28},
 "layer": [
  {"data": {"name": "R9_tin"}, "mark": {"type": "line", "strokeWidth": 2.8, "color": "black"},
   "encoding": {
    "x": {"field": "month", "type": "quantitative", "scale": {"domain": [0, 25.5], "nice": false, "zero": false}, "axis": {"values": [0,1,2,3,4,5,6,7,8,9,10,11,12,13,14,15,16,17,18,19,20,21,22,23,24,25], "tickCount": 40, "labels": true, "labelFont": "DejaVu Serif", "labelFontSize": 20, "labelExpr": "datum.value == 6 ? '1992' : datum.value == 19 ? '1993' : ''", "labelOverlap": false, "labelFlush": false, "labelPadding": 21, "title": null, "tickSize": {"condition": {"test": "datum.value == 12", "value": 32}, "value": 15}}},
    "y": {"field": "value", "type": "quantitative", "scale": {"domain": [0, 3], "nice": false, "range": [168, 17]}, "axis": {"orient": "left", "values": [0,1,2,3], "tickSize": 14, "labelPadding": 5, "title": null}},
    "strokeDash": {"datum": "TIN : inorganic P", "scale": {"domain": ["TIN : inorganic P", "1 µM 4-MUP"], "range": [[3, 2.5], [1, 0]]}}
   }},
  {"data": {"name": "R9_mup"}, "mark": {"type": "line", "strokeWidth": 2.8, "color": "black"},
   "encoding": {
    "x": {"field": "month", "type": "quantitative"},
    "y": {"field": "value", "type": "quantitative", "scale": {"domain": [0, 0.5], "nice": false, "range": [168, 17]}, "axis": {"orient": "right", "values": [0, 0.2, 0.4], "format": "~g", "tickSize": 12, "labelAlign": "right", "labelPadding": 43, "title": null}},
    "strokeDash": {"datum": "1 µM 4-MUP", "scale": {"domain": ["TIN : inorganic P", "1 µM 4-MUP"], "range": [[3, 2.5], [1, 0]]}}
   }}
 ],
 "resolve": {"scale": {"y": "independent"}}},
{"width": 226, "height": 168, "title": {"text": "SEA", "offset": -28, "dx": 29.5},
 "layer": [
  {"data": {"name": "SEA_tin"}, "mark": {"type": "line", "strokeWidth": 2.8, "color": "black"},
   "encoding": {
    "x": {"field": "month", "type": "quantitative", "scale": {"domain": [0, 25.5], "nice": false, "zero": false, "range": [59, 226]}, "axis": {"values": [0,1,2,3,4,5,6,7,8,9,10,11,12,13,14,15,16,17,18,19,20,21,22,23,24,25], "tickCount": 40, "labels": true, "labelFont": "DejaVu Serif", "labelFontSize": 20, "labelExpr": "datum.value == 6 ? '1992' : datum.value == 19 ? '1993' : ''", "labelOverlap": false, "labelFlush": false, "labelPadding": 21, "title": null, "tickSize": {"condition": {"test": "datum.value == 12", "value": 32}, "value": 15}}},
    "y": {"field": "value", "type": "quantitative", "scale": {"domain": [0, 3], "nice": false, "range": [168, 17]}, "axis": null},
    "strokeDash": {"datum": "TIN : inorganic P", "scale": {"domain": ["TIN : inorganic P", "1 µM 4-MUP"], "range": [[3, 2.5], [1, 0]]}}
   }},
  {"data": {"name": "SEA_mup"}, "mark": {"type": "line", "strokeWidth": 2.8, "color": "black"},
   "encoding": {
    "x": {"field": "month", "type": "quantitative"},
    "y": {"field": "value", "type": "quantitative", "scale": {"domain": [0, 0.5], "nice": false, "range": [168, 17]}, "axis": null},
    "strokeDash": {"datum": "1 µM 4-MUP", "scale": {"domain": ["TIN : inorganic P", "1 µM 4-MUP"], "range": [[3, 2.5], [1, 0]]}}
   }}
 ],
 "resolve": {"scale": {"y": "independent"}}}
],
"config": {
 "view": {"stroke": null},
 "font": "DejaVu Serif",
 "title": {"font": "DejaVu Serif", "fontSize": 20, "fontWeight": "normal", "color": "black", "anchor": "middle", "frame": "group"},
 "axis": {"labelFont": "DejaVu Serif", "labelFontSize": 20, "labelColor": "black", "domainColor": "black", "domainWidth": 3, "tickColor": "black", "tickWidth": 2, "grid": false, "titleFont": "DejaVu Serif", "titleFontWeight": "normal", "titleColor": "black"},
 "legend": {"labelFont": "DejaVu Serif", "labelColor": "black"}
}
}
